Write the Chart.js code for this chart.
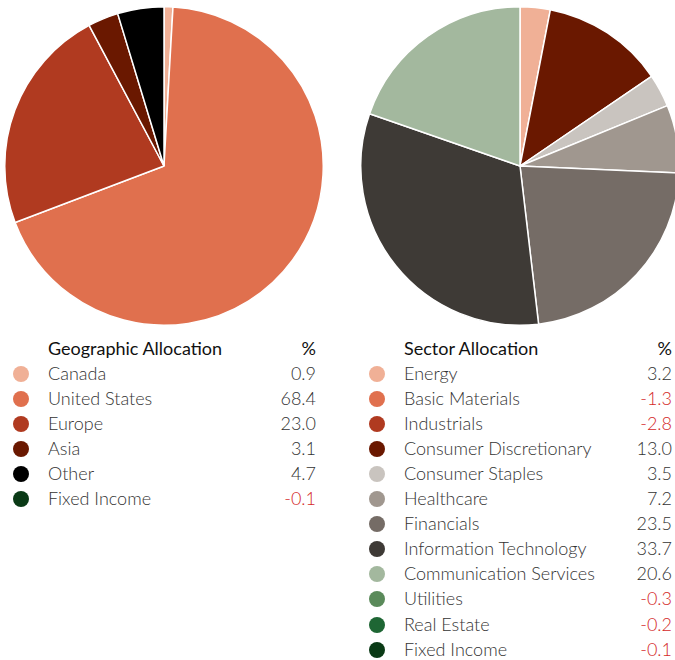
<!DOCTYPE html>
<html>
<head>
<meta charset="utf-8">
<script src="https://cdn.jsdelivr.net/npm/chart.js@4.4.1/dist/chart.umd.min.js"></script>
<style>
  html, body { margin: 0; padding: 0; background: #fff; width: 675px; height: 660px; overflow: hidden; }
  body { position: relative; font-family: Lato, "Open Sans", sans-serif; }
  canvas { position: absolute; }
  #geoCanvas { left: 4px; top: 6px; }
  #secCanvas { left: 360px; top: 6px; }
  .tbl { position: absolute; top: 335.5px; width: 318px; }
  #geoTbl { left: 4px; }
  #secTbl { left: 360px; }
  .row { position: relative; height: 25.1px; line-height: 25px; font-size: 18px; }
  .hdr { font-weight: 400; color: #111; }
  .item { font-weight: 300; color: #333; }
  .dot { position: absolute; left: 8.5px; top: 5px; width: 16px; height: 16px; border-radius: 50%; }
  .lbl { position: absolute; left: 44px; }
  .val { position: absolute; right: 6px; }
  .neg { color: #d42a2a; }
</style>
</head>
<body>
<canvas id="geoCanvas" width="320" height="320"></canvas>
<canvas id="secCanvas" width="320" height="320"></canvas>
<div class="tbl" id="geoTbl"></div>
<div class="tbl" id="secTbl"></div>
<script>
const geoTitle = "Geographic Allocation";
const geoLabels = ["Canada", "United States", "Europe", "Asia", "Other", "Fixed Income"];
const geoValues = [0.9, 68.4, 23.0, 3.1, 4.7, -0.1];
const geoColors = ["#f0b096", "#e0704e", "#b03a20", "#6a1800", "#000000", "#0a3a16"];

const secTitle = "Sector Allocation";
const secLabels = ["Energy", "Basic Materials", "Industrials", "Consumer Discretionary", "Consumer Staples",
  "Healthcare", "Financials", "Information Technology", "Communication Services", "Utilities",
  "Real Estate", "Fixed Income"];
const secValues = [3.2, -1.3, -2.8, 13.0, 3.5, 7.2, 23.5, 33.7, 20.6, -0.3, -0.2, -0.1];
const secColors = ["#f0b096", "#e0704e", "#b03a20", "#6a1800", "#c9c4bf", "#a0978f", "#756c66",
  "#3e3a36", "#a3b89e", "#5a8a5a", "#1e6634", "#0a3a16"];

function makePie(id, labels, values, colors) {
  new Chart(document.getElementById(id), {
    type: 'pie',
    data: {
      labels: labels,
      datasets: [{
        data: values.map(v => v > 0 ? v : 0),
        backgroundColor: colors,
        borderColor: '#ffffff',
        borderWidth: 1.5
      }]
    },
    options: {
      responsive: false,
      animation: false,
      layout: { padding: 0 },
      plugins: { legend: { display: false }, tooltip: { enabled: false } }
    }
  });
}

function makeTable(id, title, labels, values, colors) {
  const el = document.getElementById(id);
  let html = '<div class="row hdr"><span class="lbl">' + title + '</span><span class="val">%</span></div>';
  labels.forEach((l, i) => {
    const v = values[i];
    html += '<div class="row item"><span class="dot" style="background:' + colors[i] + '"></span>' +
      '<span class="lbl">' + l + '</span><span class="val' + (v < 0 ? ' neg' : '') + '">' + v.toFixed(1) + '</span></div>';
  });
  el.innerHTML = html;
}

makePie('geoCanvas', geoLabels, geoValues, geoColors);
makePie('secCanvas', secLabels, secValues, secColors);
makeTable('geoTbl', geoTitle, geoLabels, geoValues, geoColors);
makeTable('secTbl', secTitle, secLabels, secValues, secColors);
</script>
</body>
</html>
